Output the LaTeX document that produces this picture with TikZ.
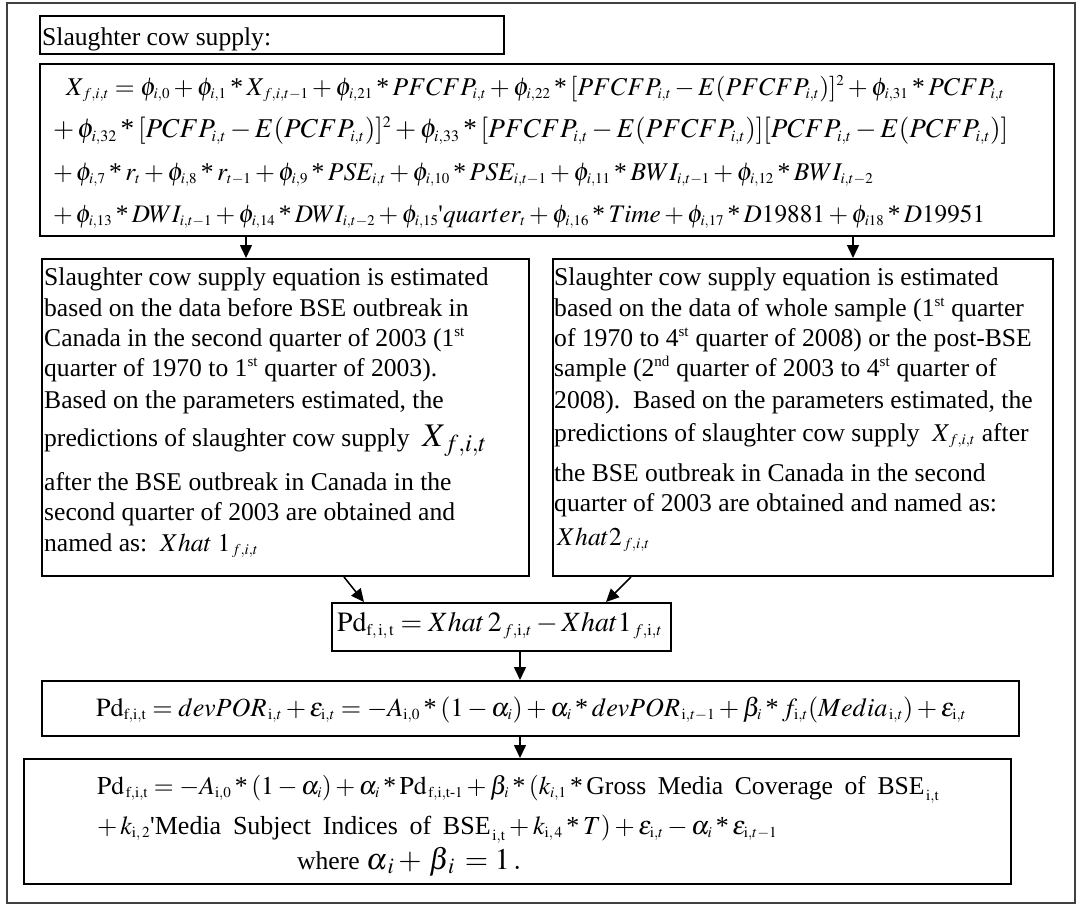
\documentclass[tikz,border=0pt]{standalone}
\usepackage{amsmath}
\usepackage{mathptmx}
\usepackage{fontspec}
\setmainfont{Liberation Serif}
\usetikzlibrary{arrows.meta}

% smaller indices, as in the equation editor output
\DeclareMathSizes{25.6}{25.6}{15}{11}

% binary asterisk as in the typeset model equations
\newcommand{\as}{\mathbin{\text{*}}}
\newcommand{\up}[1]{\mathrm{#1}}
% one equation line set to a given width
\newcommand{\eqline}[2]{\resizebox{#1}{!}{$#2$}}

\tikzset{
  box/.style={draw, line width=2pt, inner sep=0pt, anchor=north west},
  arr/.style={line width=1.5pt, -{Triangle[length=13pt,width=12pt]}},
  txt/.style={anchor=base west, inner sep=0pt},
  frame/.style={draw=black!75, line width=1.6pt}
}

\begin{document}
\begin{tikzpicture}[x=1pt, y=-1pt, font=\fontsize{25.6pt}{30.7pt}\selectfont]
\useasboundingbox (0,0) rectangle (1077,905);

% outer frame
\draw[frame] (7,3) rectangle (1075,903);

% boxes
\node[box, line width=2.4pt, minimum width=464pt, minimum height=38pt] (title) at (39,15) {};
\node[box, line width=2.4pt, minimum width=1014pt, minimum height=172pt] (eq) at (39,63) {};
\node[box, minimum width=487pt, minimum height=317pt] (left) at (41,258) {};
\node[box, minimum width=500pt, minimum height=317pt] (right) at (552,258) {};
\node[box, minimum width=339pt, minimum height=48pt] (pd) at (331,602) {};
\node[box, minimum width=977pt, minimum height=55pt] (dev) at (41,680) {};
\node[box, minimum width=987pt, minimum height=125pt] (fin) at (23,758) {};

% title
\node[txt] (ttl) at (42,45) {Slaughter cow supply:};

% supply equation
\node[txt] (e1) at (66,95) {\eqline{938pt}{X_{\,f,i,t}=\phi_{i,0}+\phi_{i,1}\as X_{\,f,i,t-1}+\phi_{i,21}\as PFCFP_{i,t}+\phi_{i,22}\as[PFCFP_{i,t}-E(PFCFP_{i,t})]^2+\phi_{i,31}\as PCFP_{i,t}}};
\node[txt] (e2) at (53,137) {\eqline{955pt}{+\,\phi_{i,32}\as[PCFP_{i,t}-E(PCFP_{i,t})]^2+\phi_{i,33}\as[PFCFP_{i,t}-E(PFCFP_{i,t})][PCFP_{i,t}-E(PCFP_{i,t})]}};
\node[txt] (e3) at (53,180) {\eqline{820pt}{+\,\phi_{i,7}\as r_t+\phi_{i,8}\as r_{t-1}+\phi_{i,9}\as PSE_{i,t}+\phi_{i,10}\as PSE_{i,t-1}+\phi_{i,11}\as BWI_{i,t-1}+\phi_{i,12}\as BWI_{i,t-2}}};
\node[txt] (e4) at (53,222) {\eqline{932pt}{+\,\phi_{i,13}\as DWI_{i,t-1}+\phi_{i,14}\as DWI_{i,t-2}+\phi_{i,15}\text{\textquotesingle}quarter_t+\phi_{i,16}\as Time+\phi_{i,17}\as D19881+\phi_{i18}\as D19951}};

% pre-BSE estimation
\node[txt] (l1) at (44,285) {Slaughter cow supply equation is estimated};
\node[txt] (l2) at (44,316) {based on the data before BSE outbreak in};
\node[txt] (l3) at (44,346) {Canada in the second quarter of 2003 (1\textsuperscript{st}};
\node[txt] (l4) at (44,376) {quarter of 1970 to 1\textsuperscript{st} quarter of 2003).};
\node[txt] (l5) at (44,408) {Based on the parameters estimated, the};
\node[txt] (l6) at (44,446) {predictions of slaughter cow supply\ \ {\fontsize{33pt}{36pt}\selectfont$X_{\,f,i,t}$}};
\node[txt] (l7) at (44,490) {after the BSE outbreak in Canada in the};
\node[txt] (l8) at (44,520) {second quarter of 2003 are obtained and};
\node[txt] (l9) at (44,551) {named as:\ \ $Xhat\;1_{\,f,i,t}$};

% whole-sample / post-BSE estimation
\node[txt] (r1) at (554,285) {Slaughter cow supply equation is estimated};
\node[txt] (r2) at (554,316) {based on the data of whole sample (1\textsuperscript{st} quarter};
\node[txt] (r3) at (554,346) {of 1970 to 4\textsuperscript{st} quarter of 2008) or the post-BSE};
\node[txt] (r4) at (554,376) {sample (2\textsuperscript{nd} quarter of 2003 to 4\textsuperscript{st} quarter of};
\node[txt] (r5) at (554,408) {2008).\ \ Based on the parameters estimated, the};
\node[txt] (r6) at (554,441) {predictions of slaughter cow supply\ \ $X_{\,f,i,t}$ after};
\node[txt] (r7) at (554,481) {the BSE outbreak in Canada in the second};
\node[txt] (r8) at (554,511) {quarter of 2003 are obtained and named as:};
\node[txt] (r9) at (557,545) {$Xhat2_{\,f,i,t}$};

% price difference
\node[txt] (p1) at (337,631) {\eqline{325pt}{\up{Pd}_{\up{f,\,i,\,t}}=Xhat\,2_{\,f,\up{i},t}-Xhat1_{\,f,\up{i},t}}};

% deviation equation
\node[txt] (d1) at (96,716) {\eqline{870pt}{\up{Pd}_{\up{f,i,t}}=devPOR_{\,\up{i},t}+\epsilon_{\up{i},t}=-A_{\up{i},0}\as(1-\alpha_i)+\alpha_i\as devPOR_{\,\up{i},t-1}+\beta_i\as f_{\up{i},t}(Media_{\,\up{i},t})+\epsilon_{\up{i},t}}};

% media equation
\node[txt] (f1) at (97,794) {\eqline{842pt}{\up{Pd}_{\,\up{f,i,t}}=-A_{\up{i},0}\as(1-\alpha_i)+\alpha_i\as\up{Pd}_{\,\up{f,i,t\text{-}1}}+\beta_i\as(k_{i,1}\as\text{\spaceskip=0.45em Gross Media Coverage of BSE}_{\,\up{i,t}}}};
\node[txt] (f2) at (97,834) {\eqline{680pt}{+\,k_{\up{i},\,2}\text{\textquotesingle\spaceskip=0.45em Media Subject Indices of BSE}_{\,\up{i,t}}+k_{\up{i},\,4}\as T)+\epsilon_{\up{i},t}-\alpha_i\as\epsilon_{\up{i},t-1}}};
\node[txt] (f3) at (297,869) {where\ {\fontsize{30pt}{34pt}\selectfont$\alpha_{\,i}+\,\beta_{\,i}\,=1\,.$}};

% connectors
\draw[arr] ([xshift=-39.5pt]left.north |- eq.south) -- ([xshift=-39.5pt]left.north);
\draw[arr] ([xshift=50pt]right.north |- eq.south) -- ([xshift=50pt]right.north);
\draw[arr] ([xshift=58.5pt]left.south) -- ([xshift=-137.5pt]pd.north);
\draw[arr] ([xshift=-172pt]right.south) -- ([xshift=104.5pt]pd.north);
\draw[arr] ([xshift=18.5pt]pd.south) -- ([xshift=18.5pt]pd.south |- dev.north);
\draw[arr] ([xshift=2.5pt]fin.north |- dev.south) -- ([xshift=2.5pt]fin.north);
\end{tikzpicture}
\end{document}
